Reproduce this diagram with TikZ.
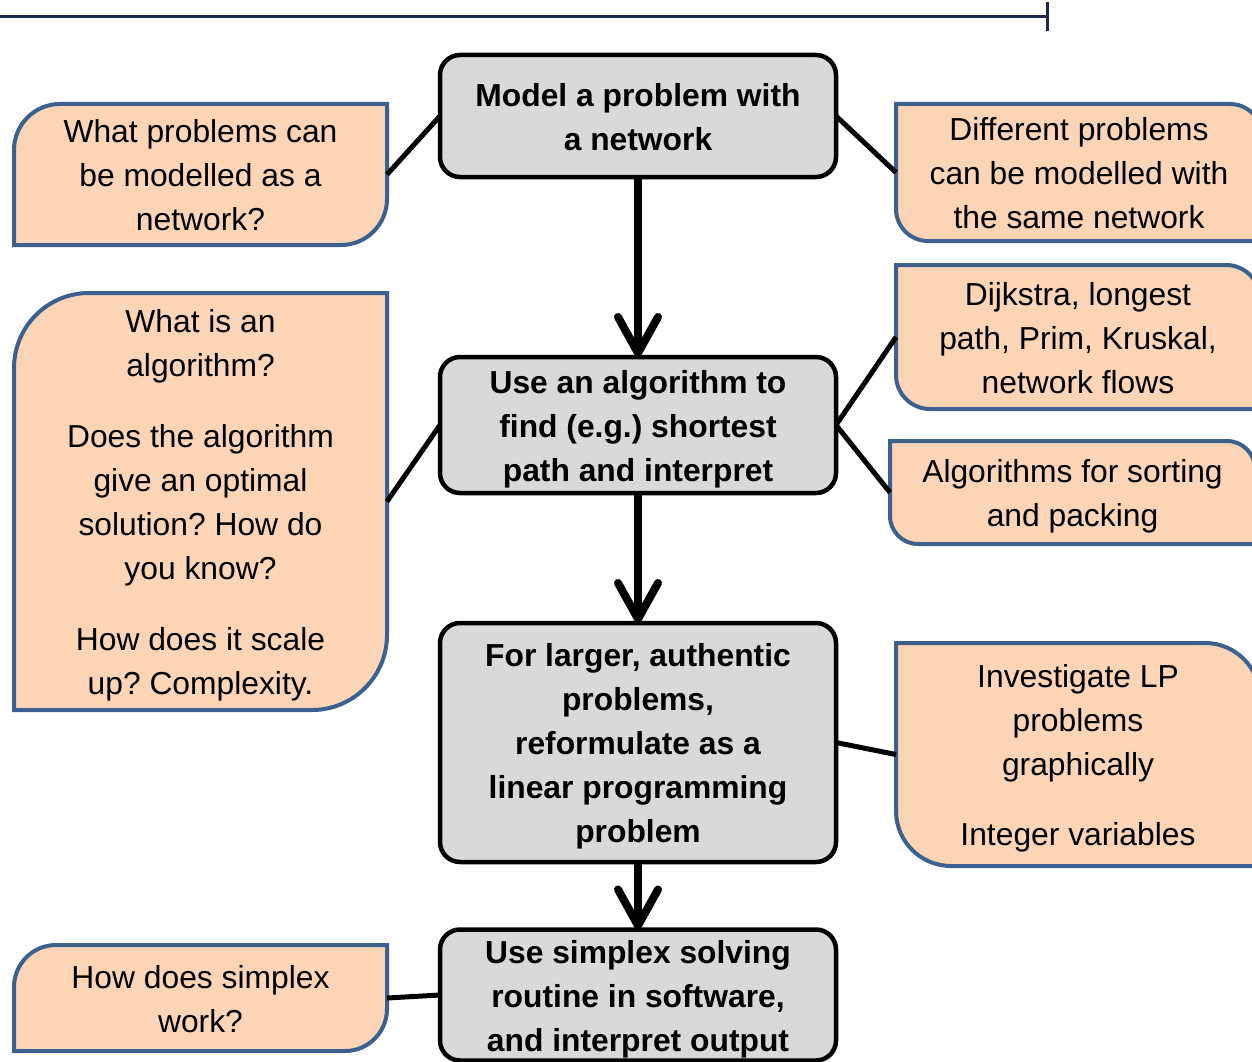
\documentclass[tikz,border=0pt]{standalone}
\usepackage{fontspec}
\setmainfont{Liberation Sans}
\usetikzlibrary{backgrounds}
\definecolor{boxgray}{HTML}{D9D9D9}
\definecolor{cardfill}{HTML}{FBD5B5}
\definecolor{cardline}{HTML}{3C6090}
\definecolor{rulenavy}{HTML}{1F2650}

% even line strut, set on the first and last line of every block
\newcommand\ls{\rule[-0.25em]{0pt}{1.27em}}
% card with rounded top-left and bottom-right corners
\newcommand\cardleft[2]{%
  \draw[cardshape] ([yshift=-#2pt]#1.north west) arc[start angle=180, end angle=270, radius=#2]
    -- (#1.north east) -- ([yshift=#2pt]#1.south east) arc[start angle=0, end angle=90, radius=#2]
    -- (#1.south west) -- cycle;}
% card with rounded top-right and bottom-left corners
\newcommand\cardright[2]{%
  \draw[cardshape] (#1.north west) -- ([xshift=-#2pt]#1.north east) arc[start angle=270, end angle=360, radius=#2]
    -- (#1.south east) -- ([xshift=#2pt]#1.south west) arc[start angle=90, end angle=180, radius=#2]
    -- cycle;}
% downward arrow from one step box to the next
\newcommand\steparrow[2]{%
  \draw[shaft] (#1.south) -- ([yshift=4pt]#2.north);
  \draw[head] ([shift={(-20,-40)}]#2.north) -- ([yshift=4pt]#2.north) -- ([shift={(20,-40)}]#2.north);}

\begin{document}
\frenchspacing
\begin{tikzpicture}[x=1pt, y=-1pt,
  txt/.style={font=\fontsize{31.8}{44}\selectfont, align=center, inner sep=0pt, outer sep=0pt},
  mainbox/.style={txt, font=\bfseries\fontsize{31.8}{44}\selectfont, draw=black, line width=4.5pt,
    fill=boxgray, rounded corners=20pt, minimum width=396pt},
  card/.style={txt},
  cardshape/.style={draw=cardline, fill=cardfill, line width=4pt},
  link/.style={draw=black, line width=5pt},
  shaft/.style={draw=black, line width=8pt},
  head/.style={draw=black, line width=8pt, line cap=round, line join=round},
  topline/.style={draw=rulenavy, line width=3pt}]
\useasboundingbox (0,0) rectangle (1252,1062);

% header rule
\draw[topline] (0,17) -- (1047,17);
\draw[topline] (1047,2) -- (1047,31);

% main steps
\node[mainbox, minimum height=122pt] (b1) at (638,116) {\ls Model a problem with\\a network\ls};
\node[mainbox, minimum height=136pt] (b2) at (638,425) {\ls Use an algorithm to\\find (e.g.) shortest\\path and interpret\ls};
\node[mainbox, minimum height=239pt] (b3) at (638,742.5) {\ls For larger, authentic\\problems,\\reformulate as a\\linear programming\\problem\ls};
\node[mainbox, minimum height=131pt] (b4) at (638,995) {\ls Use simplex solving\\routine in software,\\and interpret output\ls};

% side cards
\node[card, minimum width=373pt, minimum height=141pt] (l1) at (200.5,174.5) {\ls What problems can\\be modelled as a\\network?\ls};
\node[card, minimum width=373pt, minimum height=417pt] (l2) at (200.5,501.5) {\ls What is an\\algorithm?\\[27pt]Does the algorithm\\give an optimal\\solution? How do\\you know?\\[27pt]How does it scale\\up? Complexity.\ls};
\node[card, minimum width=373pt, minimum height=106pt] (l3) at (200.5,998) {\ls How does simplex\\work?\ls};
\node[card, minimum width=366pt, minimum height=137pt] (r1) at (1079,172.5) {\ls Different problems\\can be modelled with\\the same network\ls};
\node[card, minimum width=364pt, minimum height=144pt] (r2) at (1078,337) {\ls Dijkstra, longest\\path, Prim, Kruskal,\\network flows\ls};
\node[card, minimum width=365pt, minimum height=103pt] (r3) at (1072.5,492.5) {\ls Algorithms for sorting\\and packing\ls};
\node[card, minimum width=364pt, minimum height=223pt] (r4) at (1078,754.5) {\ls Investigate LP\\problems\\graphically\\[26pt]Integer variables\ls};

\begin{pgfonlayer}{background}
  \cardleft{l1}{46}
  \cardleft{l2}{75}
  \cardleft{l3}{42}
  \cardright{r1}{32}
  \cardright{r2}{34}
  \cardright{r3}{28}
  \cardright{r4}{55}
\end{pgfonlayer}

% links between steps and cards
\draw[link] (b1.west) -- (l1.east);
\draw[link] (b1.east) -- (r1.west);
\draw[link] (b2.west) -- (l2.east);
\draw[link] (b2.east) -- (r2.west);
\draw[link] (b2.east) -- (r3.west);
\draw[link] (b3.east) -- (r4.west);
\draw[link] (b4.west) -- (l3.east);

% flow arrows
\steparrow{b1}{b2}
\steparrow{b2}{b3}
\steparrow{b3}{b4}
\end{tikzpicture}
\end{document}
